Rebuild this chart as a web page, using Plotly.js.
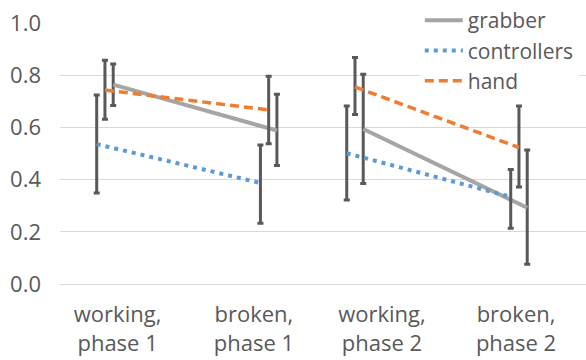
<!DOCTYPE html>
<html>
<head>
<meta charset="utf-8">
<script src="https://cdn.plot.ly/plotly-3.0.1.min.js"></script>
<style>html,body{margin:0;padding:0;background:#fff;}#chart{width:586px;height:360px;}</style>
</head>
<body>
<div id="chart"></div>
<script>
// Categories and tick labels
const categories = ["working, phase 1", "broken, phase 1", "working, phase 2", "broken, phase 2"];
const tickLabels = ["working,<br>phase 1", "broken,<br>phase 1", "working,<br>phase 2", "broken,<br>phase 2"];

// Series means
const grabber = [0.764, 0.588, 0.594, 0.292];
const controllers = [0.536, 0.387, 0.501, 0.334];
const hand = [0.743, 0.667, 0.755, 0.523];

// Error-bar upper and lower bounds
const grabberUpper = [0.843, 0.727, 0.804, 0.513];
const grabberLower = [0.684, 0.454, 0.385, 0.076];
const controllersUpper = [0.724, 0.533, 0.682, 0.439];
const controllersLower = [0.349, 0.233, 0.322, 0.214];
const handUpper = [0.857, 0.796, 0.868, 0.682];
const handLower = [0.631, 0.537, 0.649, 0.372];

// layout helpers (positions on the numeric x axis)
const pointX = [-0.095, 1.136, 1.785, 3.018];
const labelX = [0, 1.025, 1.988, 2.996];

function withGap(arr) { return [arr[0], arr[1], null, arr[2], arr[3]]; }

function makeTrace(name, vals, up, lo, offset, line) {
  const xs = pointX.map(v => v + offset);
  const plus = vals.map((v, i) => up[i] - v);
  const minus = vals.map((v, i) => v - lo[i]);
  return {
    type: 'scatter', mode: 'lines', name: name,
    x: withGap(xs), y: withGap(vals),
    connectgaps: false,
    line: line,
    error_y: {type: 'data', symmetric: false, array: withGap(plus), arrayminus: withGap(minus),
              color: '#595959', thickness: 3, width: 3}
  };
}

const traces = [
  makeTrace('grabber', grabber, grabberUpper, grabberLower, 0.062, {color: '#A5A5A5', width: 4}),
  makeTrace('controllers', controllers, controllersUpper, controllersLower, -0.062, {color: '#5B9BD5', width: 4, dash: '4px,5px'}),
  makeTrace('hand', hand, handUpper, handLower, 0, {color: '#ED7D31', width: 3.5, dash: '9px,5px'})
];

const font = {family: '"Open Sans", "Noto Sans", sans-serif', size: 22, color: '#595959'};
const legendFont = {family: '"Open Sans", "Noto Sans", sans-serif', size: 21, color: '#595959'};

const layout = {
  width: 586, height: 360,
  margin: {l: 60, r: 0, t: 21, b: 76},
  paper_bgcolor: '#fff', plot_bgcolor: '#fff',
  font: font,
  showlegend: true,
  legend: {x: 0.684, xanchor: 'left', y: 1.09, yanchor: 'top', bgcolor: '#fff',
           font: legendFont, tracegroupgap: 0, itemwidth: 38},
  xaxis: {range: [-0.433, 3.522], tickmode: 'array', tickvals: labelX, ticktext: tickLabels,
          showgrid: false, zeroline: false, showline: false, ticks: '', tickfont: font,
          ticklabelstandoff: 15},
  yaxis: {range: [0, 1], dtick: 0.2, tick0: 0, tickformat: '.1f', showgrid: true,
          gridcolor: '#D9D9D9', gridwidth: 1, zeroline: true, zerolinecolor: '#D9D9D9', zerolinewidth: 1,
          showline: false, ticks: '', ticklabelstandoff: 18, tickfont: font}
};

Plotly.newPlot('chart', traces, layout, {displayModeBar: false, staticPlot: true});
</script>
</body>
</html>
